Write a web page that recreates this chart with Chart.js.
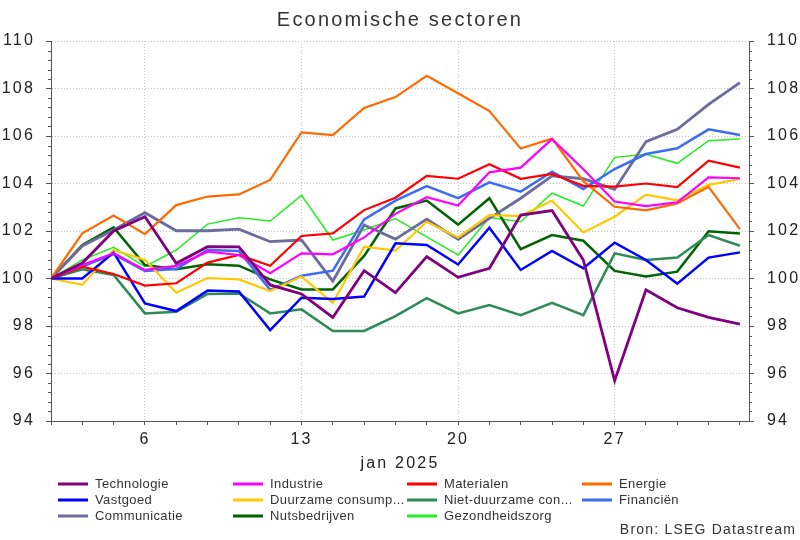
<!DOCTYPE html>
<html>
<head>
<meta charset="utf-8">
<script src="https://cdn.jsdelivr.net/npm/chart.js@4/dist/chart.umd.min.js"></script>
<style>
  body { margin: 0; background: #fff; }
</style>
</head>
<body>
<canvas id="sectoren" width="800" height="540"></canvas>
<script>
// Handelsdagen (31 dec t/m 31 jan)
const dagen = ['31', '2', '3', '6', '7', '8', '9', '10', '13', '14', '15', '16', '17', '20', '21', '22', '23', '24', '27', '28', '29', '30', '31'];
const getoondeDagen = ['6', '13', '20', '27'];
const maandLabel = 'jan 2025';
const yMin = 94;
const yMax = 110;
const yStap = 2;

// Index (31 dec = 100)
const technologie = [100, 100.65, 102.0, 102.6, 100.64, 101.34, 101.33, 99.73, 99.35, 98.36, 100.33, 99.4, 100.92, 100.05, 100.43, 102.67, 102.86, 100.78, 95.7, 99.52, 98.77, 98.36, 98.08];
const industrie = [100, 100.57, 101.06, 100.36, 100.53, 101.13, 100.99, 100.22, 101.06, 101.02, 101.73, 102.72, 103.42, 103.07, 104.47, 104.67, 105.87, 104.6, 103.24, 103.05, 103.21, 104.26, 104.22];
const materialen = [100, 100.5, 100.19, 99.7, 99.8, 100.67, 100.99, 100.54, 101.79, 101.9, 102.88, 103.4, 104.32, 104.2, 104.81, 104.2, 104.4, 103.9, 103.87, 104.0, 103.85, 104.96, 104.67];
const energie = [100, 101.9, 102.65, 101.87, 103.09, 103.45, 103.54, 104.15, 106.15, 106.04, 107.18, 107.64, 108.53, 107.8, 107.05, 105.47, 105.89, 104.1, 103.02, 102.87, 103.16, 103.86, 102.08];
const vastgoed = [100, 100.0, 101.09, 98.95, 98.63, 99.49, 99.45, 97.83, 99.19, 99.14, 99.24, 101.48, 101.41, 100.59, 102.14, 100.36, 101.16, 100.43, 101.51, 100.78, 99.78, 100.88, 101.1];
const duurzaam = [100, 99.73, 101.2, 100.78, 99.4, 100.02, 99.96, 99.47, 100.08, 98.98, 101.34, 101.17, 102.39, 101.73, 102.67, 102.63, 103.28, 101.94, 102.6, 103.53, 103.29, 103.94, 104.19];
const nietDuurzaam = [100, 100.39, 100.15, 98.53, 98.6, 99.35, 99.37, 98.53, 98.7, 97.79, 97.79, 98.42, 99.17, 98.53, 98.88, 98.46, 98.98, 98.46, 101.06, 100.78, 100.88, 101.83, 101.38];
const financien = [100, 100.5, 101.03, 100.32, 100.4, 101.2, 101.16, 99.52, 100.12, 100.33, 102.49, 103.28, 103.89, 103.38, 104.05, 103.66, 104.5, 103.77, 104.61, 105.24, 105.48, 106.28, 106.04];
const communicatie = [100, 101.37, 102.04, 102.77, 102.01, 102.01, 102.08, 101.55, 101.62, 99.89, 102.25, 101.66, 102.5, 101.65, 102.53, 103.38, 104.32, 104.2, 103.75, 105.76, 106.28, 107.33, 108.25];
const nutsbedrijven = [100, 101.41, 102.15, 100.57, 100.39, 100.6, 100.54, 99.96, 99.54, 99.54, 100.95, 102.95, 103.28, 102.27, 103.38, 101.24, 101.83, 101.59, 100.32, 100.08, 100.29, 101.99, 101.89];
const gezondheidszorg = [100, 100.78, 101.31, 100.5, 101.2, 102.29, 102.56, 102.42, 103.5, 101.62, 102.04, 102.52, 101.75, 100.99, 102.57, 102.39, 103.59, 103.05, 105.1, 105.23, 104.85, 105.8, 105.87];

const reeksen = [
  ['Technologie', technologie, '#800080', 2.8],
  ['Industrie', industrie, '#ff00ff', 2.2],
  ['Materialen', materialen, '#ff0000', 2.2],
  ['Energie', energie, '#ff6a00', 2.2],
  ['Vastgoed', vastgoed, '#0000ff', 2.5],
  ['Duurzame consump...', duurzaam, '#ffc800', 2.2],
  ['Niet-duurzame con...', nietDuurzaam, '#2e8b57', 2.5],
  ['Financiën', financien, '#3d6cf4', 2.5],
  ['Communicatie', communicatie, '#6b6b9e', 2.8],
  ['Nutsbedrijven', nutsbedrijven, '#006400', 2.5],
  ['Gezondheidszorg', gezondheidszorg, '#22ee22', 1.5]
];

const FONT = '"Liberation Sans", Arial, sans-serif';
const asKleur = '#555';

// letterafstand zoals in de bron
const spatiering = {
  id: 'spatiering',
  beforeLayout(chart) { chart.ctx.letterSpacing = '2.2px'; },
  beforeDraw(chart) { chart.ctx.letterSpacing = '2.2px'; }
};

// kleine streepjes op de y-assen
const kleineTicks = {
  id: 'kleineTicks',
  afterDraw(chart) {
    const ctx = chart.ctx;
    ctx.save();
    ctx.strokeStyle = asKleur;
    ctx.lineWidth = 1;
    ['y', 'y2'].forEach(id => {
      const s = chart.scales[id];
      const x0 = id === 'y' ? s.right : s.left;
      const dir = id === 'y' ? -1 : 1;
      for (let k = 0; k <= (yMax - yMin) / 0.4; k++) {
        if (k % 5 === 0) continue;
        const py = Math.round(s.getPixelForValue(yMin + k * 0.4)) + 0.5;
        ctx.beginPath();
        ctx.moveTo(x0, py);
        ctx.lineTo(x0 + dir * 3, py);
        ctx.stroke();
      }
    });
    ctx.restore();
  }
};

// legenda in vier kolommen + bronvermelding
const legenda = {
  id: 'legenda',
  afterDraw(chart) {
    const ctx = chart.ctx;
    const kolommen = [58, 233, 407, 582];
    const rijen = [484, 500, 516];
    ctx.save();
    ctx.letterSpacing = '0.4px';
    ctx.font = '13px ' + FONT;
    ctx.textBaseline = 'middle';
    ctx.textAlign = 'left';
    chart.data.datasets.forEach((ds, i) => {
      const x = kolommen[i % 4];
      const y = rijen[Math.floor(i / 4)];
      ctx.strokeStyle = ds.borderColor;
      ctx.lineWidth = 3;
      ctx.beginPath();
      ctx.moveTo(x, y);
      ctx.lineTo(x + 30, y);
      ctx.stroke();
      ctx.fillStyle = '#333';
      ctx.fillText(ds.label, x + 37, y);
    });
    ctx.letterSpacing = '1.2px';
    ctx.font = '14px ' + FONT;
    ctx.textAlign = 'right';
    ctx.fillText('Bron: LSEG Datastream', 796, 530);
    ctx.restore();
  }
};

const yAs = (positie) => ({
  type: 'linear',
  position: positie,
  min: yMin,
  max: yMax,
  afterFit: s => { s.width = 51; },
  ticks: {
    stepSize: yStap,
    color: '#222',
    font: { family: FONT, size: 16 },
    padding: positie === 'left' ? 11 : 13
  },
  grid: {
    drawOnChartArea: positie === 'left',
    color: '#c4c4c4',
    tickColor: asKleur,
    tickLength: 5
  },
  border: { display: true, color: asKleur, width: 1, dash: [1, 2] }
});

new Chart(document.getElementById('sectoren'), {
  type: 'line',
  data: {
    datasets: reeksen.map(([naam, waarden, kleur, dikte]) => ({
      label: naam,
      data: waarden.map((v, i) => ({ x: i, y: v })),
      borderColor: kleur,
      backgroundColor: kleur,
      borderWidth: dikte,
      pointRadius: 0,
      tension: 0
    }))
  },
  options: {
    responsive: false,
    animation: false,
    layout: { padding: 0 },
    plugins: {
      legend: { display: false },
      tooltip: { enabled: false },
      title: {
        display: true,
        text: 'Economische sectoren',
        color: '#333',
        font: { family: FONT, size: 20, weight: 'normal' },
        padding: { top: 8, bottom: 9 }
      }
    },
    scales: {
      x: {
        type: 'linear',
        min: 0,
        max: dagen.length - 1 + 0.29,
        afterFit: s => { s.height = 119; },
        afterBuildTicks: s => { s.ticks = s.ticks.filter(t => Number.isInteger(t.value)); },
        ticks: {
          stepSize: 1,
          includeBounds: false,
          autoSkip: false,
          maxRotation: 0,
          padding: 5,
          color: '#222',
          font: { family: FONT, size: 16 },
          callback: v => getoondeDagen.includes(dagen[v]) && v > 0 ? dagen[v] : ''
        },
        grid: {
          color: c => (c.tick && c.tick.value > 0 && getoondeDagen.includes(dagen[c.tick.value])) ? '#c4c4c4' : 'rgba(0,0,0,0)',
          tickColor: asKleur,
          tickLength: 4
        },
        border: { display: true, color: asKleur, width: 1, dash: [1, 2] },
        title: {
          display: true,
          text: maandLabel,
          color: '#222',
          font: { family: FONT, size: 16 },
          padding: { top: 0, bottom: 67 }
        }
      },
      y: yAs('left'),
      y2: yAs('right')
    }
  },
  plugins: [spatiering, kleineTicks, legenda]
});
</script>
</body>
</html>
